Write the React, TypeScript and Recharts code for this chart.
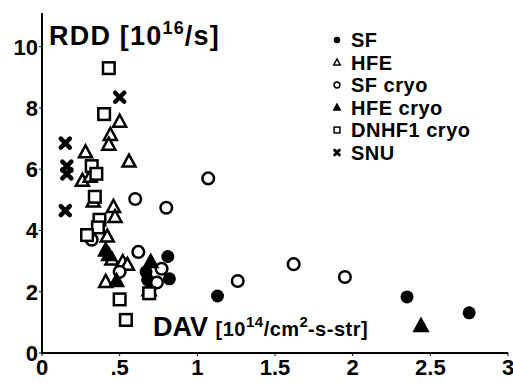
import React from "react";
import { ScatterChart, Scatter, XAxis, YAxis } from "recharts";

// values: DAV [1e14/cm2-s-str] vs RDD [1e16/s]
const sfX = [0.67, 0.68, 0.81, 0.82, 1.13, 2.35, 2.75];
const sfY = [2.65, 2.39, 3.15, 2.42, 1.86, 1.83, 1.31];

const hfeX = [0.5, 0.44, 0.43, 0.28, 0.56, 0.26, 0.31, 0.33, 0.46, 0.47, 0.42, 0.45, 0.52, 0.55, 0.41, 0.36];
const hfeY = [7.55, 7.12, 6.8, 6.55, 6.25, 5.62, 5.75, 4.95, 4.77, 4.44, 3.8, 3.05, 2.97, 2.88, 2.32, 4.15];

const sfCryoX = [1.07, 0.6, 0.8, 0.32, 0.62, 0.5, 0.77, 0.74, 1.26, 1.62, 1.95];
const sfCryoY = [5.7, 5.03, 4.74, 3.7, 3.3, 2.65, 2.75, 2.3, 2.35, 2.9, 2.48];

const hfeCryoX = [0.41, 0.43, 0.48, 0.7, 0.69, 2.44];
const hfeCryoY = [3.35, 3.2, 2.35, 2.97, 2.05, 0.88];

const dnhfX = [0.43, 0.4, 0.32, 0.35, 0.34, 0.37, 0.36, 0.29, 0.5, 0.54, 0.69];
const dnhfY = [9.3, 7.8, 6.1, 5.85, 5.1, 4.35, 4.1, 3.85, 1.75, 1.08, 1.95];

const snuX = [0.5, 0.15, 0.16, 0.16, 0.15];
const snuY = [8.35, 6.85, 6.1, 5.85, 4.65];

const xTicks = [0, 0.5, 1, 1.5, 2, 2.5, 3];
const xTickLabels = ["0", ".5", "1", "1.5", "2", "2.5", "3"];
const yTicks = [0, 2, 4, 6, 8, 10];

const legendNames = ["SF", "HFE", "SF cryo", "HFE cryo", "DNHF1 cryo", "SNU"];

const font = "'Liberation Sans', Arial, Helvetica, sans-serif";

const zip = (xs: number[], ys: number[]) => xs.map((x, i) => ({ x, y: ys[i] }));

type Kind = "dot" | "ring" | "tri" | "triFill" | "square" | "cross";

function Marker({ kind, cx, cy, s = 1 }: { kind: Kind; cx: number; cy: number; s?: number }) {
  const sw = 2.5 * Math.max(s, 0.6);
  switch (kind) {
    case "dot":
      return <circle cx={cx} cy={cy} r={6.5 * s} fill="#000" />;
    case "ring":
      return <circle cx={cx} cy={cy} r={5.8 * s} fill="#fff" stroke="#000" strokeWidth={sw} />;
    case "tri":
    case "triFill":
      return (
        <polygon
          points={`${cx},${cy - 7 * s} ${cx + 6.5 * s},${cy + 5 * s} ${cx - 6.5 * s},${cy + 5 * s}`}
          fill={kind === "tri" ? "#fff" : "#000"}
          stroke="#000"
          strokeWidth={sw}
        />
      );
    case "square":
      return <rect x={cx - 5.8 * s} y={cy - 5.8 * s} width={11.6 * s} height={11.6 * s} fill="#fff" stroke="#000" strokeWidth={sw} />;
    default:
      return (
        <path
          d={`M${cx - 4.5 * s},${cy - 4.5 * s}L${cx + 4.5 * s},${cy + 4.5 * s}M${cx + 4.5 * s},${cy - 4.5 * s}L${cx - 4.5 * s},${cy + 4.5 * s}`}
          stroke="#000"
          strokeWidth={4.5 * Math.max(s, 0.7)}
          strokeLinecap="round"
        />
      );
  }
}

const shapeOf = (kind: Kind) => (p: any) => <Marker kind={kind} cx={p.cx} cy={p.cy} />;

const series: { name: string; kind: Kind; data: { x: number; y: number }[] }[] = [
  { name: legendNames[0], kind: "dot", data: zip(sfX, sfY) },
  { name: legendNames[1], kind: "tri", data: zip(hfeX, hfeY) },
  { name: legendNames[2], kind: "ring", data: zip(sfCryoX, sfCryoY) },
  { name: legendNames[3], kind: "triFill", data: zip(hfeCryoX, hfeCryoY) },
  { name: legendNames[4], kind: "square", data: zip(dnhfX, dnhfY) },
  { name: legendNames[5], kind: "cross", data: zip(snuX, snuY) },
];

const tickStyle = { fill: "#000", fontSize: 22, fontWeight: "bold", fontFamily: font };

export default function App() {
  return (
    <div style={{ position: "absolute", left: 0, top: 0, width: 513, height: 386, background: "#fff" }}>
      <ScatterChart width={513} height={386} margin={{ top: 13, right: 5, bottom: 0, left: 0 }}>
        <XAxis
          type="number"
          dataKey="x"
          domain={[0, 3]}
          ticks={xTicks}
          interval={0}
          tickFormatter={(v: number) => xTickLabels[xTicks.indexOf(v)]}
          height={33}
          tickSize={3}
          tickMargin={3}
          stroke="#000"
          axisLine={{ stroke: "#000", strokeWidth: 2 }}
          tickLine={{ stroke: "#000" }}
          tick={tickStyle}
        />
        <XAxis xAxisId="top" orientation="top" type="number" domain={[0, 3]} height={0} tick={false} tickLine={false} axisLine={{ stroke: "#000", strokeWidth: 2 }} />
        <YAxis
          type="number"
          dataKey="y"
          domain={[0, 11.1]}
          ticks={yTicks}
          interval={0}
          width={42}
          tickSize={3}
          tickMargin={1}
          axisLine={{ stroke: "#000", strokeWidth: 2 }}
          tickLine={{ stroke: "#000" }}
          tick={tickStyle}
        />
        <YAxis yAxisId="right" orientation="right" type="number" domain={[0, 11.1]} width={0} tick={false} tickLine={false} axisLine={{ stroke: "#000", strokeWidth: 2 }} />
        {series.map((s) => (
          <Scatter key={s.name} name={s.name} data={s.data} shape={shapeOf(s.kind)} isAnimationActive={false} />
        ))}
      </ScatterChart>
      <svg width={513} height={386} style={{ position: "absolute", left: 0, top: 0, pointerEvents: "none" }} fontFamily={font} fontWeight="bold">
        <text x={49} y={45} fontSize={27} letterSpacing={1.2}>
          RDD [10
          <tspan fontSize={18} dy={-11}>16</tspan>
          <tspan dy={11}>/s]</tspan>
        </text>
        <text x={153} y={336} fontSize={27}>
          DAV{" "}
          <tspan fontSize={20} letterSpacing={0.5}>[10</tspan>
          <tspan fontSize={15} dy={-9} letterSpacing={0.5}>14</tspan>
          <tspan fontSize={20} dy={9} letterSpacing={0.5}>/cm</tspan>
          <tspan fontSize={15} dy={-9}>2</tspan>
          <tspan fontSize={20} dy={9} letterSpacing={0.5}>-s-str]</tspan>
        </text>
        {series.map((s, i) => (
          <g key={s.name}>
            <Marker kind={s.kind} cx={337} cy={40 + i * 22.5} s={0.5} />
            <text x={351} y={47 + i * 22.5} fontSize={20} letterSpacing={0.5}>
              {s.name}
            </text>
          </g>
        ))}
      </svg>
    </div>
  );
}
